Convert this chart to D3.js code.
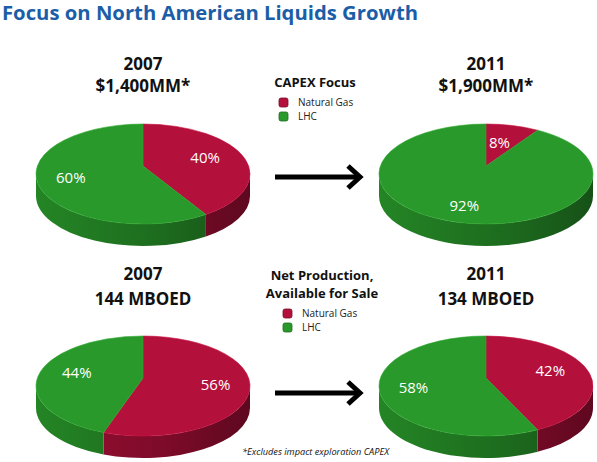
<!DOCTYPE html>
<html>
<head>
<meta charset="utf-8">
<script src="https://cdn.jsdelivr.net/npm/d3@7"></script>
<style>
  body { margin: 0; background: #fff; }
  svg { display: block; }
</style>
</head>
<body>
<svg id="chart" width="597" height="462"></svg>
<script>
// ---- data ----
var years = ["2007", "2011"];
var capexTotals = ["$1,400MM*", "$1,900MM*"];
var productionTotals = ["144 MBOED", "134 MBOED"];
var series = ["Natural Gas", "LHC"];
var capexNaturalGas = [40, 8];
var capexLHC = [60, 92];
var productionNaturalGas = [56, 42];
var productionLHC = [44, 58];

var W = 597, H = 462;
var svg = d3.select("#chart");
var defs = svg.append("defs");

var color = d3.scaleOrdinal().domain(series).range(["#b3103b", "#2a992b"]);

var font = "'Open Sans', 'Noto Sans', sans-serif";

// pie layout: 2 rows (capex, production) x 2 columns (years)
var colX = d3.scalePoint().domain(years).range([143, 486]);
var rowY = d3.scalePoint().domain(["capex", "production"]).range([174, 386]);

var pie = d3.pie().sort(null).value(function(d){ return d.value; });

var RX = 107, RY = 50, DEPTH = 22, VERTEX_DY = -8;

function rim(p, a, k){
  return [p.cx + p.rx * k * Math.sin(a), p.cy - p.ry * k * Math.cos(a)];
}

function dibujaPie(id, cx, cy, valores){
  var p = {cx: cx, cy: cy, rx: RX, ry: RY};
  var data = series.map(function(s, i){ return {name: s, value: valores[i]}; });
  var arcs = pie(data);
  var g = svg.append("g").attr("class", "pie-" + id);

  // side gradients, one per colour
  series.forEach(function(s, i){
    var base = d3.color(color(s));
    var grad = defs.append("linearGradient")
      .attr("id", "side-" + id + "-" + i)
      .attr("gradientUnits", "userSpaceOnUse")
      .attr("x1", cx - RX).attr("x2", cx + RX).attr("y1", 0).attr("y2", 0);
    grad.append("stop").attr("offset", 0).attr("stop-color", base.darker(0.4));
    grad.append("stop").attr("offset", 0.6).attr("stop-color", base.darker(1.0));
    grad.append("stop").attr("offset", 1).attr("stop-color", base.darker(1.8));
  });

  // side walls (front half only)
  arcs.forEach(function(a, i){
    var s = Math.max(a.startAngle, Math.PI / 2);
    var e = Math.min(a.endAngle, 3 * Math.PI / 2);
    if (s >= e) return;
    var p0 = rim(p, s, 1), p1 = rim(p, e, 1);
    var d = "M" + p0[0] + "," + p0[1] +
      " A" + RX + "," + RY + " 0 0 1 " + p1[0] + "," + p1[1] +
      " L" + p1[0] + "," + (p1[1] + DEPTH) +
      " A" + RX + "," + RY + " 0 0 0 " + p0[0] + "," + (p0[1] + DEPTH) + " Z";
    g.append("path").attr("d", d)
      .attr("fill", "url(#side-" + id + "-" + i + ")");
  });

  // top faces
  var vx = cx, vy = cy + VERTEX_DY;
  arcs.forEach(function(a){
    var p0 = rim(p, a.startAngle, 1), p1 = rim(p, a.endAngle, 1);
    var large = (a.endAngle - a.startAngle) > Math.PI ? 1 : 0;
    var d = "M" + vx + "," + vy + " L" + p0[0] + "," + p0[1] +
      " A" + RX + "," + RY + " 0 " + large + " 1 " + p1[0] + "," + p1[1] + " Z";
    g.append("path").attr("d", d)
      .attr("fill", color(a.data.name))
      .attr("stroke", d3.color(color(a.data.name)).brighter(0.3))
      .attr("stroke-width", 0.6);
  });

  // percent labels, pushed out a bit more on the front half
  arcs.forEach(function(a){
    var m = (a.startAngle + a.endAngle) / 2;
    var k = 0.66 - 0.16 * Math.cos(m);
    var x = cx + RX * k * Math.sin(m);
    var y = vy - RY * k * Math.cos(m);
    g.append("text")
      .attr("x", x).attr("y", y)
      .attr("text-anchor", "middle")
      .attr("dominant-baseline", "central")
      .attr("fill", "#ffffff")
      .style("font-family", font)
      .style("font-size", "15px")
      .text(a.data.value + "%");
  });
}

years.forEach(function(y, i){
  dibujaPie("capex" + i, colX(y), rowY("capex"), [capexNaturalGas[i], capexLHC[i]]);
  dibujaPie("prod" + i, colX(y), rowY("production"), [productionNaturalGas[i], productionLHC[i]]);
});

// headings over each pie
function encabezado(x, y1, y2, t1, t2){
  svg.append("text").attr("x", x).attr("y", y1).attr("text-anchor", "middle")
    .style("font-family", font).style("font-weight", "bold").style("font-size", "17px")
    .attr("fill", "#111").text(t1);
  svg.append("text").attr("x", x).attr("y", y2).attr("text-anchor", "middle")
    .style("font-family", font).style("font-weight", "bold").style("font-size", "17px")
    .attr("fill", "#111").text(t2);
}
years.forEach(function(y, i){
  encabezado(colX(y), 70, 92, y, capexTotals[i]);
  encabezado(colX(y), 280, 305, y, productionTotals[i]);
});

// legends
function leyenda(titulo, cx, yTitulo, swatchX, ySwatch){
  titulo.forEach(function(t, i){
    svg.append("text").attr("x", cx).attr("y", yTitulo + i * 18).attr("text-anchor", "middle")
      .style("font-family", font).style("font-weight", "bold").style("font-size", "13px")
      .attr("fill", "#111").text(t);
  });
  series.forEach(function(s, i){
    svg.append("rect")
      .attr("x", swatchX).attr("y", ySwatch + i * 14)
      .attr("width", 9).attr("height", 9).attr("rx", 2)
      .attr("fill", color(s))
      .attr("stroke", d3.color(color(s)).darker(1)).attr("stroke-width", 0.8);
    svg.append("text")
      .attr("x", swatchX + 19).attr("y", ySwatch + i * 14 + 8)
      .style("font-family", font).style("font-size", "10px")
      .attr("fill", "#222").text(s);
  });
}
leyenda(["CAPEX Focus"], 315, 87, 279, 98);
leyenda(["Net Production,", "Available for Sale"], 322, 280, 283, 309);

// arrows
function flecha(y){
  var g = svg.append("g").attr("stroke", "#000").attr("stroke-width", 5)
    .attr("fill", "none").attr("stroke-linecap", "butt");
  g.append("line").attr("x1", 275).attr("x2", 360).attr("y1", y).attr("y2", y);
  g.append("polyline").attr("points", "348," + (y - 11) + " 360," + y + " 348," + (y + 11));
}
flecha(rowY("capex") + 3);
flecha(rowY("production") + 7);

// title
svg.append("text").attr("x", 2).attr("y", 20)
  .style("font-family", font).style("font-weight", "bold").style("font-size", "20px")
  .attr("textLength", 416).attr("lengthAdjust", "spacingAndGlyphs")
  .attr("fill", "#1b5ea7")
  .text("Focus on North American Liquids Growth");

// footnote
svg.append("text").attr("x", 242).attr("y", 455)
  .style("font-family", font).style("font-style", "italic").style("font-size", "9.5px")
  .attr("textLength", 147).attr("lengthAdjust", "spacingAndGlyphs")
  .attr("fill", "#111")
  .text("*Excludes impact exploration CAPEX");
</script>
</body>
</html>
